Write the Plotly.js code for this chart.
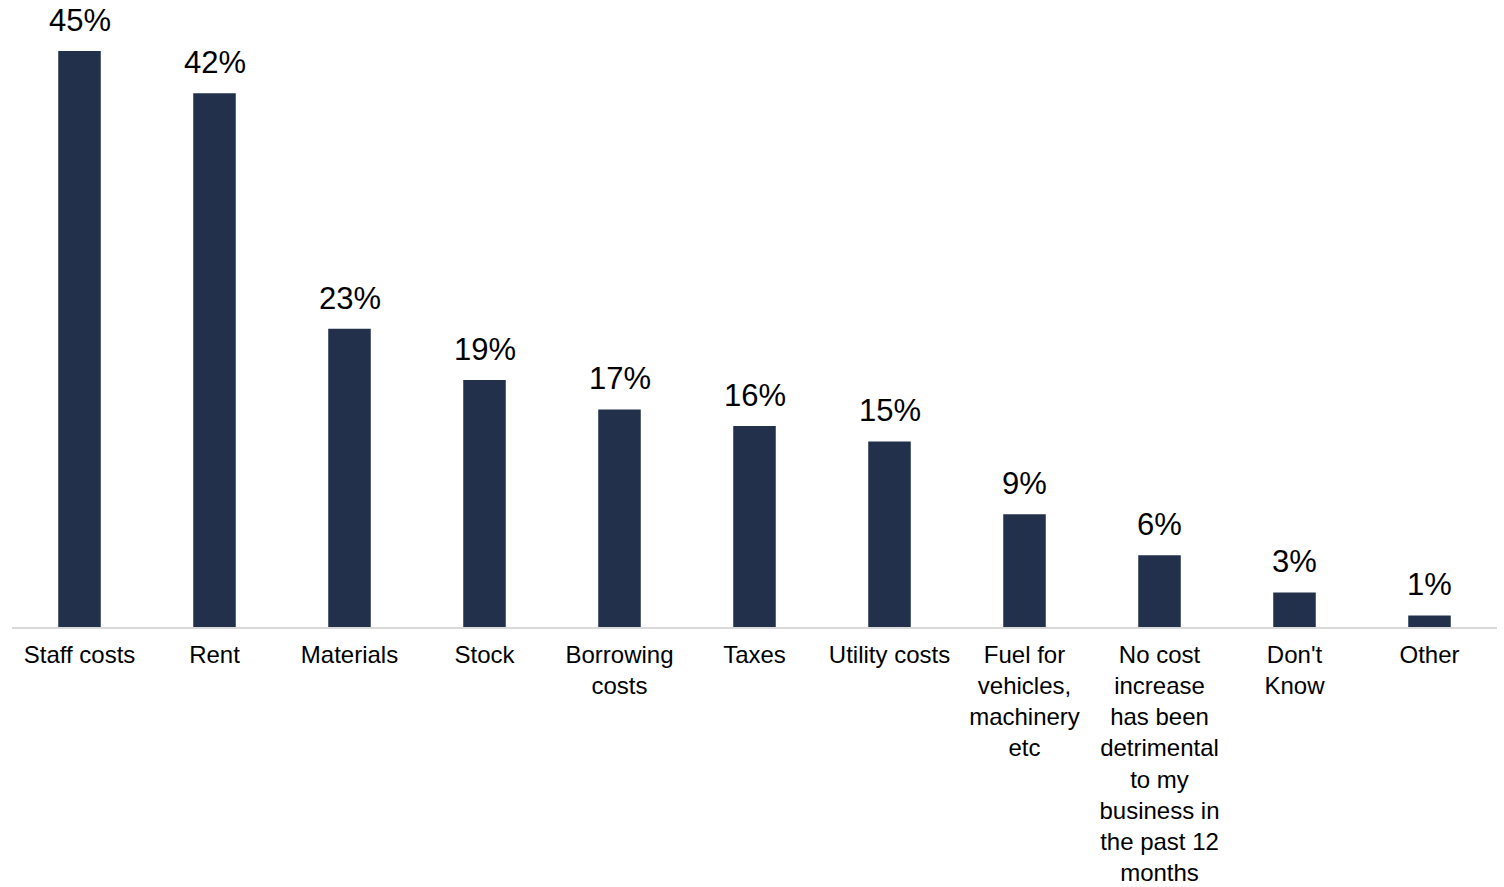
<!DOCTYPE html>
<html>
<head>
<meta charset="utf-8">
<script src="https://cdn.plot.ly/plotly-3.0.1.min.js"></script>
<style>html,body{margin:0;padding:0;background:#fff;}#chart{width:1504px;height:887px;}</style>
</head>
<body>
<div id="chart"></div>
<script>
const categories = [
  "Staff costs",
  "Rent",
  "Materials",
  "Stock",
  "Borrowing<br>costs",
  "Taxes",
  "Utility costs",
  "Fuel for<br>vehicles,<br>machinery<br>etc",
  "No cost<br>increase<br>has been<br>detrimental<br>to my<br>business in<br>the past 12<br>months",
  "Don't<br>Know",
  "Other"
];
const values = [45, 41.7, 23.3, 19.3, 17.0, 15.7, 14.5, 8.8, 5.6, 2.7, 0.9];
const valueLabels = values.map(v => Math.round(v) + "%");

const barColor = "#22304C";

const trace = {
  type: "bar",
  x: categories,
  y: values,
  marker: {color: barColor},
  hoverinfo: "none"
};

const annotations = categories.map((c, i) => ({
  x: c,
  y: values[i],
  xref: "x",
  yref: "y",
  text: valueLabels[i],
  showarrow: false,
  yanchor: "bottom",
  xanchor: "center",
  yshift: 11,
  font: {family: "Liberation Sans, Arial, sans-serif", size: 31, color: "#000000"}
}));

const layout = {
  width: 1504,
  height: 887,
  margin: {l: 12, r: 7, t: 0, b: 260, pad: 0},
  paper_bgcolor: "#ffffff",
  plot_bgcolor: "#ffffff",
  showlegend: false,
  bargap: 0.685,
  xaxis: {
    type: "category",
    showline: true,
    linecolor: "#d9d9d9",
    linewidth: 2,
    ticks: "",
    ticklabelstandoff: 5,
    showgrid: false,
    zeroline: false,
    tickangle: 0,
    tickfont: {family: "Liberation Sans, Arial, sans-serif", size: 24, color: "#000000"},
    automargin: false
  },
  yaxis: {
    range: [0, 48.98],
    visible: false,
    showgrid: false,
    zeroline: false
  },
  annotations: annotations
};

Plotly.newPlot("chart", [trace], layout, {displayModeBar: false, staticPlot: true});
</script>
</body>
</html>
